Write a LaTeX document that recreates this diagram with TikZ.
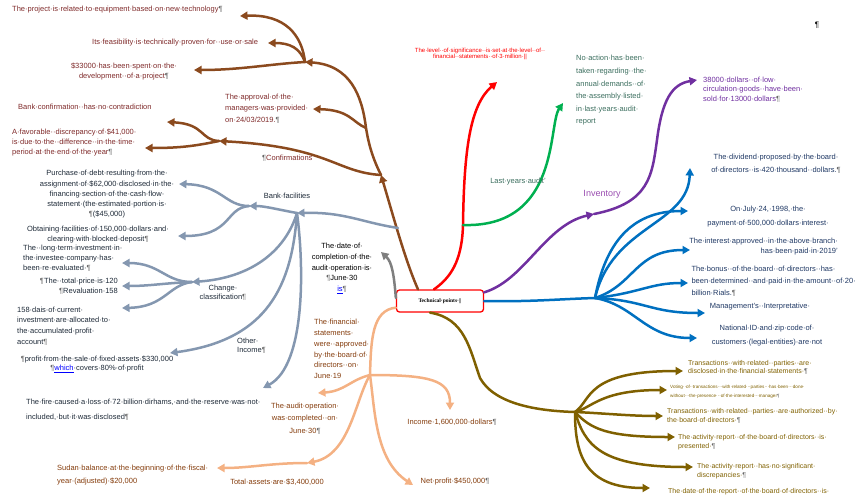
\documentclass[tikz,border=0pt]{standalone}
\usepackage{fontspec}
\setmainfont{Liberation Sans}
\newfontfamily\techfont{Liberation Serif}
\usetikzlibrary{arrows.meta,calc}
\definecolor{BrLine}{HTML}{8B4A1E}
\definecolor{BrInk}{HTML}{7F2A2A}
\definecolor{GrLine}{HTML}{00B050}
\definecolor{GrInk}{HTML}{3B6E5E}
\definecolor{PuLine}{HTML}{7030A0}
\definecolor{PuInk}{HTML}{9A4DB0}
\definecolor{BlLine}{HTML}{0070C0}
\definecolor{BlInk}{HTML}{1F3864}
\definecolor{OlLine}{HTML}{7F6000}
\definecolor{PcLine}{HTML}{F4B183}
\definecolor{PcInk}{HTML}{843C0C}
\definecolor{GyLine}{HTML}{7F7F7F}
\definecolor{SlLine}{HTML}{8497B0}
\definecolor{SlInk}{HTML}{1E2A38}
\newcommand{\txtsz}[2]{\fontsize{#1}{#2}\selectfont}
\newcommand{\pil}{\textcolor{black!60}{¶}}
\tikzset{
  limb/.style={line width=2.5pt,line cap=round},
  arr/.style={-{Triangle[length=7.5pt,width=8pt]}},
  note/.style={inner sep=0pt,align=left,font=\txtsz{7.5}{10}},
}

\begin{document}
\begin{tikzpicture}[x=1pt,y=-1pt]
    \useasboundingbox (0,0) rectangle (859,496);

    \node[draw=red,fill=white,line width=1.3pt,rounded corners=3pt,
          minimum width=87pt,minimum height=22pt,font=\techfont\bfseries\txtsz{5.5}{6}] (tech) at (440,301)
          {Technical·points·||};

    % hubs and arrow ends
    \coordinate (brhubA) at (381,175);
    \coordinate (brfork) at (366,128);
    \coordinate (brhubB) at (305,62);
    \coordinate (brhubC) at (219,141);
    \coordinate (brtip1) at (240,16);
    \coordinate (brtip2) at (268,43);
    \coordinate (brtip3) at (194,70);
    \coordinate (brtip4) at (313,109);
    \coordinate (brtip5) at (167,122);
    \coordinate (brtip6) at (145,148);
    \coordinate (redmid) at (463,225);
    \coordinate (redtip) at (497,82);
    \coordinate (grtip) at (563,103);
    \coordinate (puhub) at (594,214);
    \coordinate (putip) at (697,80);
    \coordinate (blhub) at (595,298);
    \coordinate (olhub) at (575,412);
    \coordinate (pchub) at (370,375);
    \coordinate (pcmid) at (307,463);
    \coordinate (pctip1) at (318,393);
    \coordinate (pctip2) at (450,410);
    \coordinate (pctip3) at (217,468);
    \coordinate (pctip4) at (413,485);
    \coordinate (gytip) at (381,252);
    \coordinate (slroot) at (398,228);
    \coordinate (slhub) at (297,213);
    \coordinate (slfork) at (249,206);
    \coordinate (slchg) at (192,282);
    \coordinate (sltip1) at (179,184);
    \coordinate (sltip2) at (178,236);
    \coordinate (sltip6) at (170,353);
    \coordinate (sltip7) at (263,388);

    % brown
    \draw[limb,BrLine,arr] ([xshift=-22pt]tech.north) .. controls (405,260) and (393,215) .. (brhubA);
    \draw[limb,BrLine] (brhubA) .. controls (371,155) and (368,140) .. (brfork);
    \draw[limb,BrLine,arr] (brfork) .. controls (362,95) and (350,65) .. (brhubB);
    \draw[limb,BrLine,arr] (brhubB) .. controls (302,35) and (285,14) .. (brtip1);
    \draw[limb,BrLine,arr] (brhubB) .. controls (300,48) and (290,43) .. (brtip2);
    \draw[limb,BrLine,arr] (brhubB) .. controls (270,64) and (240,70) .. (brtip3);
    \draw[limb,BrLine,arr] (brfork) .. controls (352,122) and (350,110) .. (brtip4);
    \draw[limb,BrLine,arr] (brhubA) .. controls (335,172) and (330,147) .. (brhubC);
    \draw[limb,BrLine,arr] (brhubC) .. controls (200,140) and (205,124) .. (brtip5);
    \draw[limb,BrLine,arr] (brhubC) .. controls (195,146) and (180,148) .. (brtip6);

    % red and green
    \draw[limb,red] ([xshift=-6pt]tech.north) .. controls (450,278) and (462,262) .. (redmid);
    \draw[limb,red,arr] (redmid) .. controls (464,150) and (470,105) .. (redtip);
    \draw[limb,GrLine,arr] (redmid) .. controls (560,228) and (548,125) .. (grtip);

    % purple
    \draw[limb,PuLine,arr] ([yshift=-3pt]tech.north east) .. controls (525,280) and (545,225) .. (puhub);
    \draw[limb,PuLine,arr] (puhub) .. controls (650,203) and (652,175) .. (657,140)
      .. controls (662,100) and (672,84) .. (putip);

    % blue
    \draw[limb,BlLine] (tech.east) .. controls (530,302) and (560,299) .. (blhub);
    \foreach \ax/\ay/\bx/\by/\ex/\ey in {612/225/688/225/690/168, 605/245/630/211/688/211,
        635/285/635/250/690/250, 640/293/650/283/688/283, 645/300/650/313/705/313, 635/305/645/338/697/338} {
      \draw[limb,BlLine,arr] (blhub) .. controls (\ax,\ay) and (\bx,\by) .. (\ex,\ey);
    }

    % olive
    \draw[limb,OlLine] ([xshift=-10pt]tech.south) .. controls (465,318) and (470,350) .. (480,378)
      .. controls (495,405) and (540,411) .. (olhub);
    \foreach \ax/\ay/\bx/\by/\ex/\ey in {592/400/585/371/683/371, 592/408/600/390/667/390,
        600/413/630/416/663/416, 590/428/605/437/675/437, 585/445/600/467/693/467, 575/455/585/488/650/488} {
      \draw[limb,OlLine,arr] (olhub) .. controls (\ax,\ay) and (\bx,\by) .. (\ex,\ey);
    }

    % peach
    \draw[limb,PcLine] ([yshift=5pt]tech.south west) .. controls (372,310) and (371,340) .. (pchub);
    \draw[limb,PcLine,arr] (pchub) .. controls (350,380) and (345,391) .. (pctip1);
    \draw[limb,PcLine,arr] (pchub) .. controls (430,375) and (450,380) .. (pctip2);
    \draw[limb,PcLine,arr] (pchub) .. controls (355,400) and (350,455) .. (pcmid);
    \draw[limb,PcLine,arr] (pcmid) .. controls (270,463) and (250,468) .. (pctip3);
    \draw[limb,PcLine,arr] (pchub) .. controls (375,410) and (375,460) .. (pctip4);

    % gray
    \draw[limb,GyLine,arr] ([yshift=3pt]tech.west) .. controls (394,275) and (392,262) .. (gytip);

    % slate
    \draw[limb,SlLine,arr] (slroot) .. controls (360,222) and (345,212) .. (slhub);
    \draw[limb,SlLine,arr] (slhub) .. controls (280,210) and (265,206) .. (slfork);
    \draw[limb,SlLine,arr] (slfork) .. controls (225,206) and (222,185) .. (sltip1);
    \draw[limb,SlLine,arr] (slfork) .. controls (225,208) and (232,236) .. (sltip2);
    \draw[limb,SlLine,arr] (slhub) .. controls (285,252) and (250,278) .. (slchg);
    \foreach \ax/\ay/\bx/\by/\ex/\ey in {165/282/160/263/122/263, 165/283/150/286/122/286, 168/285/165/307/122/308} {
      \draw[limb,SlLine,arr] (slchg) .. controls (\ax,\ay) and (\bx,\by) .. (\ex,\ey);
    }
    \draw[limb,SlLine,arr] (slhub) .. controls (292,285) and (268,340) .. (sltip6);
    \draw[limb,SlLine,arr] (slhub) .. controls (304,265) and (306,365) .. (sltip7);

    % brown texts
    \node[note,text=BrInk,anchor=west] (tproject) at (12,10) {The·project·is·related·to·equipment·based·on·new·technology\pil};
    \node[note,text=BrInk,anchor=west] (tfeasib) at (92,43) {Its·feasibility·is·technically·proven·for··use·or·sale};
    \node[note,text=BrInk,align=center] (tspent) at (124,71) {\$33000·has·been·spent·on·the·\\development··of·a·project\pil};
    \node[note,text=BrInk,anchor=west,font=\txtsz{7.5}{11.5}] (tapprov) at (225,108.5) {The·approval·of·the·\\managers·was·provided·\\on·24/03/2019.\pil};
    \node[note,text=BrInk,anchor=west] (tbankconf) at (18,107) {Bank·confirmation··has·no·contradiction};
    \node[note,text=BrInk,anchor=west] (tfavor) at (12,142) {A·favorable··discrepancy·of·\$41,000·\\is·due·to·the··difference··in·the·time·\\period·at·the·end·of·the·year\pil};
    \node[note,text=BrInk,anchor=west] (tconfirm) at (262,158) {\pil Confirmations};

    % red, green, purple texts
    \node[note,text=red,align=center,font=\txtsz{6}{6.5}] (tlevel) at (480,54) {The·level··of·significance··is·set·at·the·level··of··\\financial··statements··of·3·million·||};
    \node[note,text=GrInk,anchor=west,font=\txtsz{7.5}{12.6}] (tnoaction) at (576,90.5) {No·action·has·been·\\taken·regarding··the·\\annual·demands··of·\\the·assembly·listed·\\in·last·years·audit·\\report};
    \node[note,text=GrInk] (tlastaudit) at (518,182) {Last·years·audit'};
    \node[note,text=PuInk,font=\txtsz{9}{10}] (tinvent) at (602,194) {Inventory};
    \node[note,text=PuLine,anchor=west,font=\txtsz{7.5}{9.5}] (tlowcirc) at (703,89.5) {38000·dollars··of·low·\\circulation·goods··have·been·\\sold·for·13000·dollars\pil};

    % blue texts
    \node[note,text=BlInk,align=center,font=\txtsz{7.5}{13}] (tdivid) at (776,163.5) {The·dividend·proposed·by·the·board·\\of·directors··is·420·thousand··dollars.\pil};
    \node[note,text=BlInk,align=center,font=\txtsz{7.5}{14}] (tjuly) at (768,217) {On·July·24,·1998,·the·\\payment·of·500,000·dollars·interest·};
    \node[note,text=BlInk,align=right,anchor=east] (tintappr) at (838,247) {The·interest·approved··in·the·above·branch·\\has·been·paid·in·2019'};
    \node[note,text=BlInk,align=left,anchor=east,font=\txtsz{7.5}{12}] (tbonus) at (856,281) {\hspace*{\fill}The·bonus··of·the·board··of·directors··has·\\\hspace*{\fill}been·determined··and·paid·in·the·amount··of·20·\\billion·Rials.\pil};
    \node[note,text=BlInk] (tmanag) at (760,307) {Management's··Interpretative·};
    \node[note,text=BlInk,align=center,font=\txtsz{7.5}{14}] (tnatid) at (767,336) {National·ID·and·zip·code·of·\\customers·(legal·entities)·are·not};

    % olive texts
    \node[note,text=OlLine,anchor=west,font=\txtsz{7}{7.5}] (trelated) at (688,367.5) {Transactions··with·related··parties··are·\\disclosed·in·the·financial·statements·\pil};
    \node[note,text=OlLine,anchor=west,font=\txtsz{4.6}{9}] (tvoting) at (670,391.5) {Voting··of··transactions···with·related···parties···has·been···done·\\without···the·presence···of·the·interested···manager\pil};
    \node[note,text=OlLine,anchor=west,font=\txtsz{7}{8.5}] (tauthor) at (667,416) {Transactions··with·related··parties··are·authorized··by·\\the·board·of·directors·\pil};
    \node[note,text=OlLine,anchor=west,font=\txtsz{7}{8.5}] (tactiv) at (678,442) {The·activity·report··of·the·board·of·directors··is·\\presented·\pil};
    \node[note,text=OlLine,anchor=west,font=\txtsz{7}{8.5}] (tnosig) at (697,471) {The·activity·report··has·no·significant·\\discrepancies·\pil};
    \node[note,text=OlLine,anchor=west,font=\txtsz{7}{8}] (tdate) at (668,492) {The·date·of·the·report··of·the·board·of·directors··is·};

    % peach texts
    \node[note,text=PcInk,align=center,font=\txtsz{7.5}{12.5}] (tauditop) at (305,418.5) {The·audit·operation·\\was·completed··on·\\June·30\pil};
    \node[note,text=PcInk] (tincome) at (452,422) {Income·1,600,000·dollars\pil};
    \node[note,text=PcInk] (ttotal) at (277,482) {Total·assets·are·\$3,400,000};
    \node[note,text=PcInk] (tnet) at (455,481) {Net·profit·\$450,000\pil};
    \node[note,text=PcInk,anchor=west,font=\txtsz{7.5}{13}] (tsudan) at (57,475.5) {Sudan·balance·at·the·beginning·of·the·fiscal·\\year·(adjusted)·\$20,000};
    \node[note,text=PcInk,anchor=west,font=\txtsz{7.5}{10.8}] (tfinst) at (314,349) {The·financial·\\statements·\\were··approved·\\by·the·board·of·\\directors··on·\\June·19};

    % gray and slate texts
    \node[note,text=black,align=center,font=\txtsz{7.5}{10.75}] (tcompl) at (342,268.5) {The·date·of·\\completion·of·the·\\audit·operation·is·\\\pil June·30\\\textcolor{blue}{\underline{is}}\pil};
    \node[note,text=SlInk] (tbankfac) at (287,196) {Bank·facilities};
    \node[note,text=SlInk,align=center,font=\txtsz{7.5}{9}] (tchange) at (223,292.5) {Change·\\classification\pil};
    \node[note,text=SlInk,anchor=west,font=\txtsz{7.5}{8.5}] (tother) at (237,346) {Other·\\Income\pil};
    \node[note,text=SlInk,align=center,font=\txtsz{7.5}{10.25}] (tpurch) at (107,194.5) {Purchase·of·debt·resulting·from·the·\\assignment·of·\$62,000·disclosed·in·the·\\financing·section·of·the·cash·flow·\\statement·(the·estimated·portion·is·\\\pil(\$45,000)};
    \node[note,text=SlInk,align=center] (tobtain) at (98,235) {Obtaining·facilities·of·150,000·dollars·and·\\clearing·with·blocked·deposit\pil};
    \node[note,text=SlInk,anchor=west] (tlongterm) at (23,258) {The··long·term·investment·in·\\the·investee·company·has·\\been·re·evaluated·\pil};
    \node[note,text=SlInk,align=right,anchor=east] (ttotalpr) at (118,286) {\pil The··total·price·is·120\\\pil Revaluation·158};
    \node[note,text=SlInk,anchor=west,font=\txtsz{7.5}{10.7}] (tdais) at (17,326) {158·dais·of·current·\\investment·are·allocated·to·\\the·accumulated·profit·\\account\pil};
    \node[note,text=SlInk,align=center,font=\txtsz{7.5}{9}] (tprofit) at (97,364.5) {\pil profit·from·the·sale·of·fixed·assets·\$330,000\\\pil\textcolor{blue}{\underline{which}}·covers·80\%·of·profit};
    \node[note,text=SlInk,anchor=west,font=\txtsz{7.5}{15}] (tfire) at (26,409.5) {The·fire·caused·a·loss·of·72·billion·dirhams,·and·the·reserve·was·not·\\included,·but·it·was·disclosed\pil};
    \node[note,font=\txtsz{8}{9}] (tpilc) at (817,25) {¶};
\end{tikzpicture}
\end{document}
